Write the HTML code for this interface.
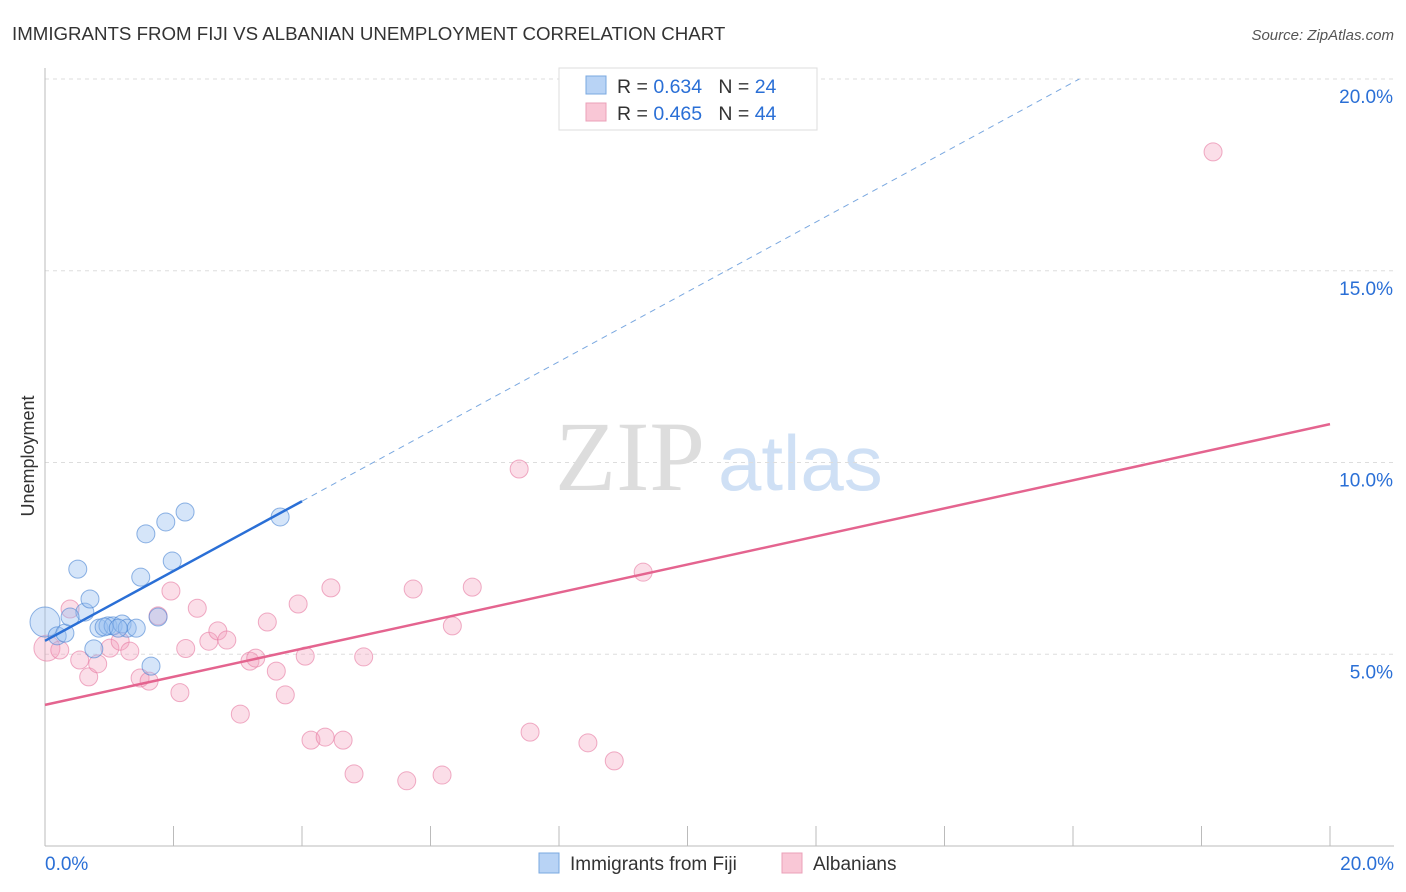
<!DOCTYPE html>
<html><head><meta charset="utf-8"><style>
body{margin:0;background:#fff;font-family:"Liberation Sans",sans-serif;}
svg{display:block}
</style></head><body>
<svg width="1406" height="892" viewBox="0 0 1406 892">
<text x="12" y="40" font-size="18.7" fill="#333">IMMIGRANTS FROM FIJI VS ALBANIAN UNEMPLOYMENT CORRELATION CHART</text>
<text x="1394" y="40" font-size="15" fill="#555" font-style="italic" text-anchor="end">Source: ZipAtlas.com</text>
<text x="555" y="490" font-size="100" fill="#ddd" font-family="Liberation Serif">ZIP</text>
<text x="718" y="490" font-size="78" fill="#cfe0f5">atlas</text>
<text transform="translate(34,456) rotate(-90)" font-size="18" fill="#333" text-anchor="middle">Unemployment</text>
<g id="grid"></g><g id="axes"></g><g id="marks"></g>
<g>
<rect x="559" y="68" width="258" height="62" fill="#fff" stroke="#ddd"/>
<rect x="586" y="76" width="20" height="18" fill="#b8d3f5" stroke="#7aa8e0"/>
<rect x="586" y="103" width="20" height="18" fill="#f9c7d6" stroke="#eba0b8"/>
<text x="617" y="93" font-size="19.5" fill="#333">R = <tspan fill="#2a6fd6">0.634</tspan>&#160;&#160;&#160;N = <tspan fill="#2a6fd6">24</tspan></text>
<text x="617" y="120" font-size="19.5" fill="#333">R = <tspan fill="#2a6fd6">0.465</tspan>&#160;&#160;&#160;N = <tspan fill="#2a6fd6">44</tspan></text>
</g>
<g>
<rect x="539" y="853" width="20" height="20" fill="#b8d3f5" stroke="#7aa8e0"/>
<text x="570" y="870" font-size="19" fill="#333">Immigrants from Fiji</text>
<rect x="782" y="853" width="20" height="20" fill="#f9c7d6" stroke="#eba0b8"/>
<text x="813" y="870" font-size="19" fill="#333">Albanians</text>
</g>
</svg>
<script>
const yTicks=[5,10,15,20];
const yTickLabels=["5.0%","10.0%","15.0%","20.0%"];
const xTickVals=[0,2,4,6,8,10,12,14,16,18,20];
const fijiX=[0,0.19,0.31,0.51,0.62,0.70,0.76,0.84,0.98,1.06,1.20,1.28,1.42,1.49,1.57,1.65,1.76,1.88,1.98,2.18,3.66,0.39,0.92,1.14];
const fijiY=[5.84,5.48,5.55,7.22,6.10,6.44,5.14,5.68,5.74,5.74,5.79,5.68,5.68,7.01,8.14,4.69,5.97,8.45,7.43,8.71,8.58,5.97,5.71,5.68];
const albX=[0.03,0.23,0.39,0.54,0.68,0.82,1.01,1.17,1.32,1.48,1.62,1.76,1.96,2.10,2.19,2.37,2.55,2.69,2.83,3.04,3.19,3.28,3.46,3.60,3.74,3.94,4.05,4.14,4.36,4.45,4.64,4.81,4.96,5.63,5.73,6.18,6.34,6.65,7.38,7.55,8.45,8.86,9.31,18.18];
const albY=[5.16,5.11,6.18,4.85,4.41,4.75,5.16,5.34,5.08,4.38,4.30,6.00,6.65,4.00,5.15,6.20,5.34,5.61,5.37,3.44,4.82,4.90,5.84,4.56,3.94,6.31,4.95,2.76,2.84,6.73,2.76,1.88,4.93,1.70,6.70,1.85,5.74,6.75,9.83,2.97,2.69,2.22,7.14,18.10];
const fijiFit=[5.35,0.91], albFit=[3.68,0.366];
const X=v=>45+v*64.25, Y=v=>846-v*38.35;
const NS="http://www.w3.org/2000/svg";
function mk(t,a,p){const e=document.createElementNS(NS,t);for(const k in a)e.setAttribute(k,a[k]);p.appendChild(e);return e;}
const grid=document.getElementById('grid'),axes=document.getElementById('axes'),marks=document.getElementById('marks');
yTicks.forEach((v,i)=>{
 const l=mk('line',{x1:45,x2:1394,y1:Y(v),y2:Y(v),stroke:'#ddd','stroke-dasharray':'4,4'},grid);
 
 
 const t=mk('text',{x:1393,y:Y(v)+24,'font-size':19,fill:'#2a6fd6','text-anchor':'end'},axes);
 t.textContent=yTickLabels[i];
 
 
});
const ya=mk('line',{x1:45,x2:45,y1:68,y2:846,stroke:'#bbb'},axes);


const xa=mk('line',{x1:45,x2:1394,y1:846,y2:846,stroke:'#bbb'},axes);


xTickVals.forEach(v=>{
 const t=mk('line',{x1:X(v),x2:X(v),y1:826,y2:846,stroke:'#bbb'},axes);
 
 
});
[[0,'0.0%','start',45],[20,'20.0%','end',1394]].forEach(d=>{
 const t=mk('text',{x:d[3],y:870,'font-size':19,fill:'#2a6fd6','text-anchor':d[2]},axes);
 t.textContent=d[1];
 
 
});
albX.forEach((v,i)=>{
 const c=mk('circle',{cx:X(v),cy:Y(albY[i]),r:i==0?13:9,fill:'rgba(244,160,190,0.35)',stroke:'rgba(230,120,160,0.6)'},marks);
 
 
});
fijiX.forEach((v,i)=>{
 const c=mk('circle',{cx:X(v),cy:Y(fijiY[i]),r:i==0?15:9,fill:'rgba(150,190,240,0.4)',stroke:'rgba(70,130,210,0.6)'},marks);
 
 
});
const bl=mk('line',{x1:X(0),y1:Y(fijiFit[0]),x2:X(4),y2:Y(fijiFit[0]+4*fijiFit[1]),stroke:'#2a6fd6','stroke-width':2.5},marks);


const xe=16.1;
const bd=mk('line',{x1:X(4),y1:Y(fijiFit[0]+4*fijiFit[1]),x2:X(xe),y2:Y(fijiFit[0]+xe*fijiFit[1]),stroke:'#7aa8e0','stroke-width':1,'stroke-dasharray':'6,5'},marks);


const pl=mk('line',{x1:X(0),y1:Y(albFit[0]),x2:X(20),y2:Y(albFit[0]+20*albFit[1]),stroke:'#e4648f','stroke-width':2.5},marks);


</script>
</body></html>
